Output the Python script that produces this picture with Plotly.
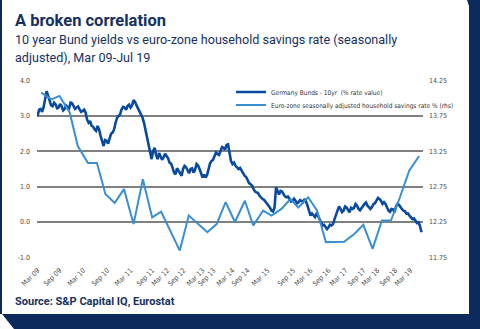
import plotly.graph_objects as go

# ---- data read from the reference; the Bund series is sampled every half slot
#      of the chart's category axis (slot 0 = Mar 09, slot 128 = Jul 19) ----
bund_10y = [
    3.00, 3.18, 3.20, 3.12, 3.25, 3.52, 3.70, 3.58, 3.42, 3.30,
    3.28, 3.38, 3.33, 3.22, 3.24, 3.34, 3.28, 3.16, 3.20, 3.30,
    3.26, 3.22, 3.38, 3.36, 3.28, 3.20, 3.24, 3.27, 3.19, 3.12,
    3.14, 3.18, 3.10, 2.90, 2.81, 2.86, 2.72, 2.70, 2.62, 2.58,
    2.72, 2.62, 2.44, 2.25, 2.15, 2.32, 2.30, 2.22, 2.39, 2.50,
    2.53, 2.62, 2.81, 2.95, 3.00, 3.05, 3.19, 3.26, 3.24, 3.18,
    3.28, 3.32, 3.24, 3.30, 3.45, 3.40, 3.30, 3.22, 3.10, 3.06,
    2.95, 2.80, 2.58, 2.40, 2.15, 1.98, 1.78, 2.00, 2.10, 1.90,
    1.78, 1.95, 1.87, 1.76, 1.83, 1.93, 1.87, 1.80, 1.68, 1.65,
    1.54, 1.40, 1.35, 1.52, 1.45, 1.38, 1.31, 1.50, 1.59, 1.55,
    1.45, 1.38, 1.50, 1.52, 1.40, 1.48, 1.64, 1.60, 1.50, 1.40,
    1.26, 1.34, 1.26, 1.33, 1.50, 1.66, 1.73, 1.76, 1.87, 1.97,
    1.92, 1.90, 2.01, 2.12, 2.10, 2.05, 2.18, 2.20, 1.95, 1.72,
    1.64, 1.68, 1.59, 1.55, 1.50, 1.53, 1.45, 1.36, 1.31, 1.28,
    1.17, 1.10, 1.07, 1.03, 0.93, 0.86, 0.84, 0.82, 0.74, 0.68,
    0.65, 0.63, 0.56, 0.49, 0.46, 0.40, 0.32, 0.30, 0.41, 0.98,
    0.85, 0.78, 0.88, 0.86, 0.79, 0.72, 0.70, 0.72, 0.65, 0.58,
    0.60, 0.66, 0.60, 0.53, 0.56, 0.62, 0.60, 0.56, 0.65, 0.58,
    0.46, 0.30, 0.18, 0.24, 0.18, 0.14, 0.23, 0.18, 0.08, -0.02,
    -0.10, -0.08, -0.15, -0.20, -0.15, -0.08, -0.10, -0.06, 0.08, 0.22,
    0.32, 0.44, 0.37, 0.28, 0.32, 0.44, 0.41, 0.33, 0.27, 0.40,
    0.37, 0.40, 0.51, 0.46, 0.37, 0.33, 0.41, 0.45, 0.51, 0.55,
    0.46, 0.42, 0.37, 0.43, 0.51, 0.53, 0.60, 0.68, 0.65, 0.60,
    0.51, 0.56, 0.51, 0.42, 0.32, 0.29, 0.37, 0.36, 0.27, 0.44,
    0.51, 0.48, 0.41, 0.36, 0.32, 0.30, 0.23, 0.24, 0.18, 0.11,
    0.08, 0.10, 0.04, -0.03, -0.01, -0.12, -0.29,
]

sav_slot = [1.2, 4.6, 7.3, 10.7, 13.4, 16.8, 19.8, 22.6, 25.7, 28.8,
            32.0, 35.1, 38.2, 41.2, 47.4, 50.4, 56.6, 59.7, 62.7, 65.8,
            69.1, 71.9, 75.2, 78.0, 81.3, 84.3, 86.9, 90.2, 93.2, 96.1,
            102.2, 105.6, 108.6, 111.7, 114.8, 117.8, 120.6, 123.9, 127.2]
sav_rate = [14.08, 13.985, 14.035, 13.80, 13.325, 13.085, 13.085, 12.645, 12.52, 12.715,
            12.22, 12.855, 12.315, 12.395, 11.845, 12.34, 12.105, 12.22, 12.53, 12.25,
            12.55, 12.20, 12.41, 12.34, 12.435, 12.575, 12.455, 12.60, 12.41, 11.965,
            11.97, 12.08, 12.21, 11.87, 12.27, 12.27, 12.575, 12.975, 13.185]

tick_slot = [0, 7.3, 15.3, 23.3, 31, 38.3, 43.3, 48.7, 55, 58.7, 65,
             70, 76.7, 85.3, 91, 97, 102.7, 108.7, 113.3, 119.3, 124.3]
tick_text = ["Mar 09", "Sep 09", "Mar 10", "Sep 10", "Mar 11", "Sep 11", "Mar 12",
             "Sep 12", "Mar 13", "Sep 13", "Mar 14", "Sep 14", "Mar 15", "Sep 15",
             "Mar 16", "Sep 16", "Mar 17", "Sep 17", "Mar 18", "Sep 18", "Mar 19"]

left_ticks = [-1, 0, 1, 2, 3, 4]
left_text = ["-1.0", "0.0", "1.0", "2.0", "3.0", "4.0"]
right_ticks = [11.75, 12.25, 12.75, 13.25, 13.75, 14.25]
right_text = ["11.75", "12.25", "12.75", "13.25", "13.75", "14.25"]

# ---- layout geometry ----
W, H = 480, 329
L, R, T, B = 37, 57, 80, 71
PW, PH = W - L - R, H - T - B


def px(x):
    return (x - L) / PW


def py(y):
    return (H - B - y) / PH


NAVY = "#0c2a5c"
TXT = "#15315f"
NARROW = "Liberation Sans Narrow, DejaVu Sans Condensed, Arial Narrow, sans-serif"
lo, hi = -1.02, 4.02

fig = go.Figure()
fig.add_trace(go.Scatter(
    y=bund_10y, x0=0, dx=0.5, mode="lines", name="Germany Bunds - 10yr  (% rate value)",
    line=dict(color="#0a4a9e", width=2.6), legend="legend"))
fig.add_trace(go.Scatter(
    x=sav_slot, y=sav_rate, yaxis="y2", mode="lines",
    name="Euro-zone seasonally adjusted household savings rate % (rhs)",
    line=dict(color="#3a8fd0", width=2), legend="legend2"))

tickfont = dict(family=NARROW, size=7, color="#4a4a4a")
fig.update_layout(
    width=W, height=H, margin=dict(l=L, r=R, t=T, b=B),
    paper_bgcolor="white", plot_bgcolor="white",
    xaxis=dict(range=[-0.2, 128.5], tickvals=tick_slot, ticktext=tick_text,
               tickangle=-45, showgrid=False, zeroline=False, showline=False,
               tickfont=tickfont, ticklabelstandoff=6),
    yaxis=dict(range=[lo, hi], tickvals=left_ticks, ticktext=left_text,
               showgrid=True, gridcolor="#808080", gridwidth=1.5, zeroline=False,
               tickfont=tickfont, ticklabelstandoff=6),
    yaxis2=dict(range=[12.25 + 0.5 * lo, 12.25 + 0.5 * hi], overlaying="y", side="right",
                tickvals=right_ticks, ticktext=right_text, showgrid=False, zeroline=False,
                tickfont=tickfont, ticklabelstandoff=5),
    legend=dict(x=px(231), y=py(92), xanchor="left", yanchor="middle",
                bgcolor="rgba(0,0,0,0)", font=dict(family=NARROW, size=6.5, color="#333333")),
    legend2=dict(x=px(231), y=py(105), xanchor="left", yanchor="middle",
                 bgcolor="rgba(0,0,0,0)", font=dict(family=NARROW, size=6.5, color="#333333")),
    showlegend=True,
)

annos = [
    dict(text="<b>A broken correlation</b>", x=px(13), y=py(21), size=16.5),
    dict(text="10 year Bund yields vs euro-zone household savings rate (seasonally",
         x=px(13), y=py(40), size=12.6),
    dict(text="adjusted), Mar 09-Jul 19", x=px(13), y=py(57), size=12.6),
    dict(text="<b>Source: S&P Capital IQ, Eurostat</b>", x=px(13), y=py(301), size=11),
]
for a in annos:
    fig.add_annotation(text=a["text"], x=a["x"], y=a["y"], xref="paper", yref="paper",
                       xanchor="left", yanchor="middle", showarrow=False,
                       font=dict(family="Roboto, sans-serif", size=a["size"], color=TXT))


def path(pts):
    return "M " + " L ".join(f"{px(x):.5f},{py(y):.5f}" for x, y in pts) + " Z"


shapes = [
    [(0, 0), (2, 0), (2, 314), (0, 314)],
    [(2, 314), (480, 314), (480, 329), (14, 329)],
    [(467, 0), (480, 0), (480, 329), (469, 329), (469, 6)],
]
for s in shapes:
    fig.add_shape(type="path", path=path(s), xref="paper", yref="paper",
                  fillcolor=NAVY, line=dict(width=0), layer="above")

fig.write_html("out.html")
